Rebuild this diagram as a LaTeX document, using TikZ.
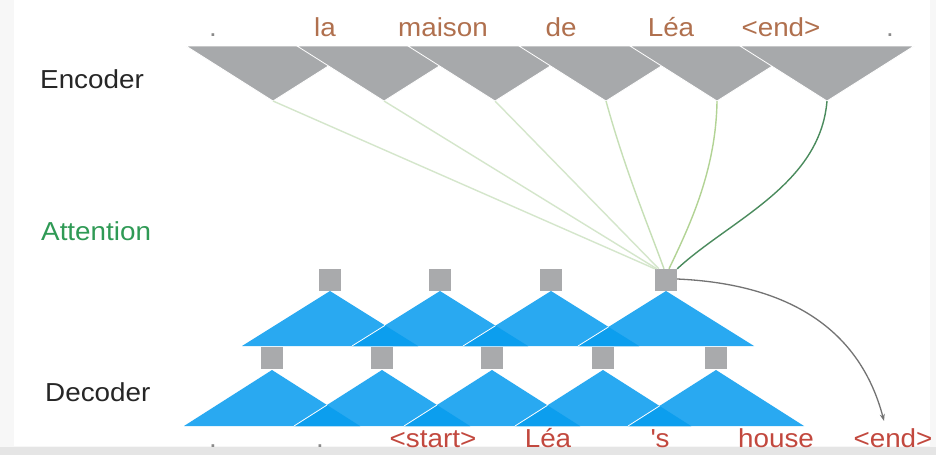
\documentclass[tikz,border=0pt]{standalone}
\usepackage{fontspec}
\setmainfont{Liberation Sans}[FakeStretch=1.07]
\usetikzlibrary{arrows.meta}
\definecolor{encgray}{HTML}{A7A9AB}
\definecolor{sqgray}{HTML}{A9AAAC}
\definecolor{decblue}{HTML}{29A9F1}
\definecolor{decdark}{HTML}{0C9EEE}
\definecolor{enccol}{HTML}{B0704E}
\definecolor{deccol}{HTML}{C2483E}
\definecolor{dotcol}{HTML}{8A8A8A}
\definecolor{attgreen}{HTML}{2F9A55}
\definecolor{attA}{HTML}{D4E6CB}
\definecolor{attB}{HTML}{C6DFB6}
\definecolor{attC}{HTML}{B2D394}
\definecolor{attD}{HTML}{4A8B5D}
\begin{document}
\begin{tikzpicture}[x=1pt,y=-1pt,
  word/.style={font=\fontsize{26}{30}\selectfont, anchor=base, inner sep=0pt},
  lab/.style={font=\fontsize{26}{30}\selectfont, anchor=base west, inner sep=0pt, text=black!85},
  sq/.style={fill=sqgray, minimum size=22pt, inner sep=0pt, draw=none},
  enctri/.style={fill=encgray, draw=white, line width=0.8pt},
  attline/.style={line width=1.4pt}]
\useasboundingbox (0,0) rectangle (936,455);
\fill[white!97!black] (0,0) rectangle (936,455);
\fill[white] (14,0) rectangle (930,446);
\fill[black!10] (0,447) rectangle (936,455);

% labels
\node[lab] (lenc) at (40,88) {Encoder};
\node[lab, text=attgreen] (latt) at (41,240) {Attention};
\node[lab] (ldec) at (45,401) {Decoder};

% encoder triangles
\foreach \i/\x in {1/273,2/384,3/495,4/606,5/717,6/827}{
  \filldraw[enctri] (\x-87,46) -- (\x+87,46) -- (\x,101) -- cycle;
  \coordinate (e\i) at (\x,101);
}

% encoder words
\node[word, text=dotcol] (w1) at (213,36) {.};
\node[word, text=enccol] (w2) at (325,36) {la};
\node[word, text=enccol] (w3) at (443,36) {maison};
\node[word, text=enccol] (w4) at (561,36) {de};
\node[word, text=enccol] (w5) at (671,36) {Léa};
\node[word, text=enccol] (w6) at (781,36) {<end>};
\node[word, text=dotcol] (w7) at (890,36) {.};

% decoder upper row
\foreach \i/\x/\p in {1/330/0,2/440/330,3/551/440,4/666/551}{
  \fill[decblue] (\x-88,346) -- (\x+88,346) -- (\x,291) -- cycle;
  \ifnum\i>1
    \pgfmathsetmacro{\cx}{(\x+\p)/2}
    \pgfmathsetmacro{\cy}{346-55*(1-(\x-\p)/176)}
    \fill[decdark] (\x-88,346) -- (\cx,\cy) -- (\p+88,346) -- cycle;
    \draw[white, line width=0.8pt] (\x-88,346) -- (\cx,\cy);
  \fi
  \node[sq] (u\i) at (\x,280) {};
}

% decoder lower row
\foreach \i/\x/\p in {1/272/0,2/382/272,3/492/382,4/603/492,5/716/603}{
  \fill[decblue] (\x-88,426) -- (\x+88,426) -- (\x,370) -- cycle;
  \ifnum\i>1
    \pgfmathsetmacro{\cx}{(\x+\p)/2}
    \pgfmathsetmacro{\cy}{426-56*(1-(\x-\p)/176)}
    \fill[decdark] (\x-88,426) -- (\cx,\cy) -- (\p+88,426) -- cycle;
    \draw[white, line width=0.8pt] (\x-88,426) -- (\cx,\cy);
  \fi
  \node[sq] (l\i) at (\x,358) {};
}

% decoder words
\node[word, text=dotcol] (d1) at (213,447) {.};
\node[word, text=dotcol] (d2) at (320,447) {.};
\node[word, text=deccol] (d3) at (433,447) {<start>};
\node[word, text=deccol] (d4) at (548,447) {Léa};
\node[word, text=deccol] (d5) at (660,447) {\textquotesingle s};
\node[word, text=deccol] (d6) at (776,447) {house};
\node[word, text=deccol] (d7) at (893,447) {<end>};

% attention lines
\draw[attline, attA] (e1) -- (u4.north west);
\draw[attline, attA] (e2) -- ([xshift=2pt]u4.north west);
\draw[attline, attA] (e3) -- ([xshift=4pt]u4.north west);
\draw[attline, attB] (e4) .. controls (625,170) and (648,225) .. ([xshift=-2pt]u4.north);
\draw[attline, attC] (e5) .. controls (716,170) and (690,225) .. ([xshift=3pt]u4.north);
\draw[attline, attD] (e6) .. controls (820,185) and (730,220) .. (u4.north east);

% output arrow
\coordinate (aend) at (884,421);
\draw[line width=1.3pt, black!55, -{Stealth[length=7pt,width=5pt]}] ([yshift=1pt]u4.east) .. controls (790,284) and (860,330) .. (aend);
\end{tikzpicture}
\end{document}
